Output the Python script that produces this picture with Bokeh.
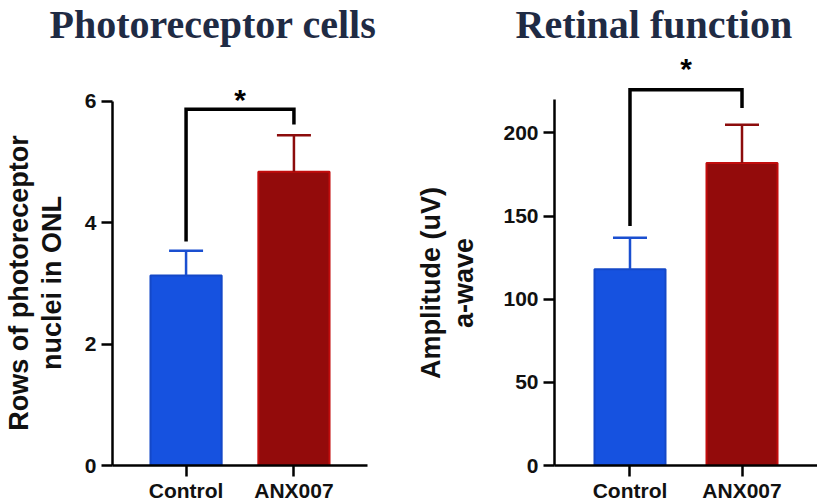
from bokeh.plotting import figure
from bokeh.layouts import row
from bokeh.models import FactorRange, Range1d, FixedTicker, Title, ColumnDataSource
from bokeh.core.properties import value
from bokeh.embed import file_html
from bokeh.resources import INLINE

# ---------------- data ----------------
groups = ["Control", "ANX007"]
bar_fill = ["#1652e0", "#930b0b"]
bar_edge = ["#1448c8", "#c20d0d"]
err_color = ["#1a4fd0", "#8c0c0c"]

rows_mean = [3.13, 4.84]
rows_err = [0.41, 0.60]
rows_ticks = [0, 2, 4, 6]
rows_bracket = [3.69, 5.87, 5.62]   # left leg end, top, right leg end

amp_mean = [118, 182]
amp_err = [19, 23]
amp_ticks = [0, 50, 100, 150, 200]
amp_bracket = [144, 226, 215]

SANS = "Liberation Sans"
SERIF = "Liberation Serif"
H = 504
NB = "\u00a0"


def make_panel(title, ylabel, means, errs, ticks, bounds, ytop, bracket, star_y,
               width, border_left, border_right, pad, bar_w, title_offset, label_standoff, shift):
    p = figure(width=width, height=H, output_backend="svg", toolbar_location=None,
               x_range=FactorRange(factors=groups, range_padding=pad, range_padding_units="absolute"),
               y_range=Range1d(0, ytop),
               min_border_left=border_left, min_border_right=border_right,
               min_border_top=40, min_border_bottom=30)
    p.outline_line_color = None
    p.xgrid.grid_line_color = None
    p.ygrid.grid_line_color = None
    p.background_fill_color = "white"
    p.border_fill_color = "white"

    t = Title(text=title, align="left", offset=title_offset, text_font=SERIF,
              text_font_size="40px", text_font_style="bold", text_color="#1f2b44",
              vertical_align="top", standoff=0)
    try:
        t.standoff = -16
    except Exception:
        pass
    p.add_layout(t, "above")

    src = ColumnDataSource(dict(x=groups, top=means,
                                up=[m + e for m, e in zip(means, errs)],
                                fill=bar_fill, edge=bar_edge, ec=err_color))
    p.vbar(x="x", top="top", width=bar_w, bottom=0, source=src,
           fill_color="fill", line_color="edge", line_width=2)
    p.segment(x0="x", y0="top", x1="x", y1="up", source=src, line_color="ec", line_width=2.5)
    p.scatter(x="x", y="up", marker="dash", size=34, source=src, line_color="ec", line_width=2.5)

    bx = [groups[0], groups[0], groups[1], groups[1]]
    by = [bracket[0], bracket[1], bracket[1], bracket[2]]
    p.line(x=bx, y=by, line_color="black", line_width=3.5, line_join="miter")
    p.text(x=[1.0], y=[star_y], text=["*"], text_align="center", text_baseline="middle",
           text_font=value(SANS), text_font_style="bold", text_font_size="30px", text_color="black")

    for ax in (p.xaxis[0], p.yaxis[0]):
        ax.axis_line_width = 2.5
        ax.axis_line_color = "black"
        ax.major_tick_line_width = 2.5
        ax.major_tick_line_color = "black"
        ax.major_tick_out = 11
        ax.major_tick_in = 0
        ax.minor_tick_line_color = None
        ax.major_label_text_font = SANS
        ax.major_label_text_font_style = "bold"
        ax.major_label_text_color = "#111111"
    p.yaxis[0].ticker = FixedTicker(ticks=ticks)
    p.yaxis[0].bounds = bounds
    p.yaxis[0].major_label_text_font_size = "21px"
    p.yaxis[0].major_label_standoff = 5
    lines = ylabel.split("\n")
    p.yaxis[0].axis_label = "\n".join(l + NB * shift for l in lines)
    p.yaxis[0].axis_label_text_font = SANS
    p.yaxis[0].axis_label_text_font_style = "bold"
    p.yaxis[0].axis_label_text_font_size = "27px"
    p.yaxis[0].axis_label_text_color = "#111111"
    p.yaxis[0].axis_label_text_line_height = 1.1
    p.yaxis[0].axis_label_standoff = label_standoff
    p.xaxis[0].axis_label = None
    p.xaxis[0].major_label_text_font_size = "21px"
    p.xaxis[0].major_label_standoff = 2
    return p


p1 = make_panel("Photoreceptor cells", "Rows of photoreceptor\nnuclei in ONL",
                rows_mean, rows_err, rows_ticks, (0, 6), 7.003, rows_bracket, 6.03,
                width=410, border_left=107, border_right=43, pad=0.182, bar_w=0.66,
                title_offset=-63, label_standoff=15, shift=8)
p2 = make_panel("Retinal function", "Amplitude (uV)\na-wave",
                amp_mean, amp_err, amp_ticks, (0, 220), 255.6, amp_bracket, 238.5,
                width=407, border_left=144, border_right=0, pad=0.174, bar_w=0.634,
                title_offset=-39, label_standoff=21, shift=8)

layout = row(p1, p2)
open("out.html", "w").write(file_html(layout, INLINE))
